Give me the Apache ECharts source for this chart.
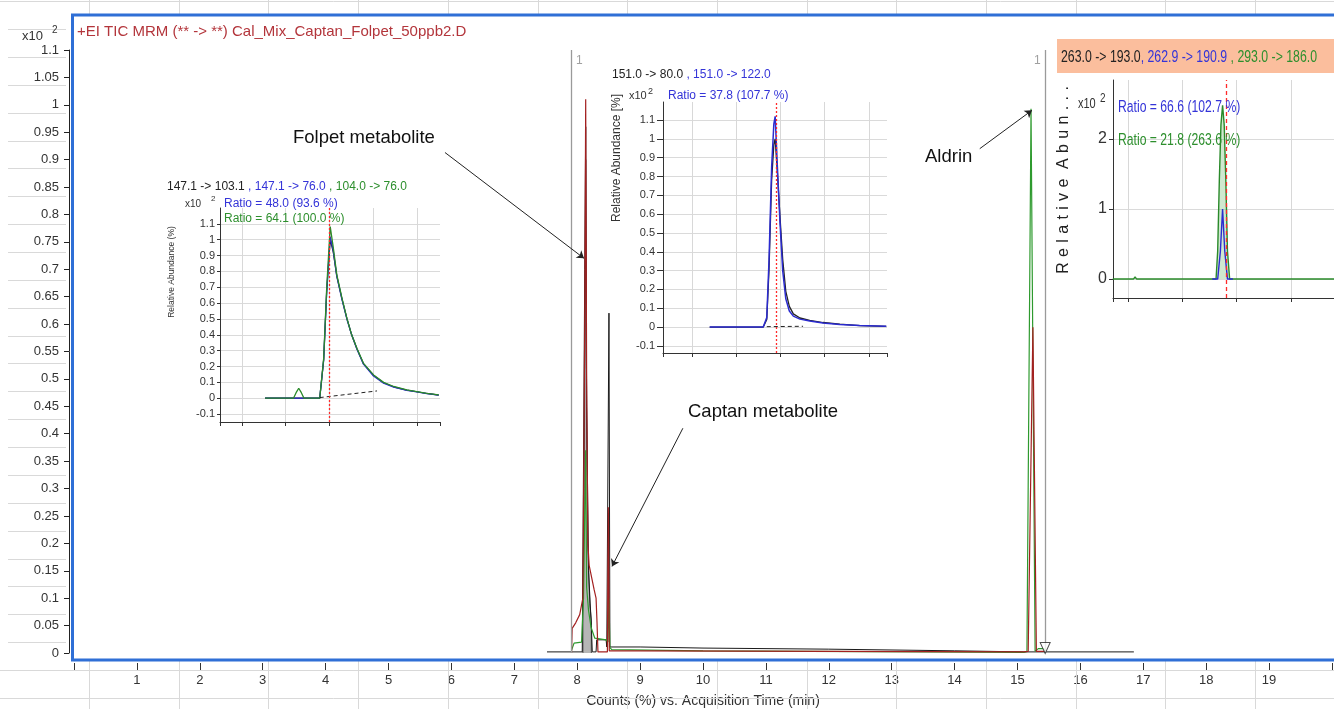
<!DOCTYPE html>
<html>
<head>
<meta charset="utf-8">
<title>TIC MRM Cal_Mix_Captan_Folpet_50ppb2</title>
<script src="https://cdn.jsdelivr.net/npm/echarts@6/dist/echarts.min.js"></script>
<style>
  html, body { margin: 0; padding: 0; background: #fff; }
  #chart { width: 1334px; height: 709px; }
</style>
</head>
<body>
<div id="chart"></div>
<script>
// ---- main TIC window: time (min) vs counts (x10^2) ----
var ticTime   = [7.52, 8.08, 8.095, 8.12, 8.135, 8.15, 8.18, 8.225, 8.24, 8.30, 8.31, 8.46, 8.47, 8.49, 8.505, 8.52, 9.0, 10.0, 12.0, 14.0, 15.1, 15.44, 16.85];
var ticCounts = [0.002, 0.002, 0.25, 0.7, 0.96, 0.45, 0.15, 0.05, 0.002, 0.002, 0.024, 0.024, 0.011, 0.011, 0.62, 0.011, 0.011, 0.009, 0.007, 0.004, 0.002, 0.002, 0.002];

var redTime   = [7.91, 7.92, 7.976, 8.04, 8.09, 8.12, 8.135, 8.15, 8.17, 8.19, 8.27, 8.30, 8.31, 8.315, 8.33, 8.48, 8.495, 8.51, 9.0, 12.0, 15.1, 15.17, 15.245, 15.30, 15.45];
var redCounts = [0.0, 0.045, 0.055, 0.07, 0.1, 0.6, 1.01, 0.5, 0.2, 0.16, 0.115, 0.1, 0.1, 0.056, 0.002, 0.002, 0.266, 0.004, 0.004, 0.003, 0.002, 0.003, 0.594, 0.003, 0.003];

var greenTime   = [7.91, 7.95, 8.07, 8.10, 8.125, 8.135, 8.15, 8.18, 8.22, 8.28, 8.46, 8.49, 8.505, 8.52, 8.55, 10.0, 15.1, 15.15, 15.215, 15.28, 15.33, 15.42, 15.44];
var greenCounts = [0.005, 0.018, 0.02, 0.1, 0.3, 0.37, 0.12, 0.078, 0.047, 0.027, 0.024, 0.02, 0.10, 0.01, 0.006, 0.004, 0.001, 0.003, 0.993, 0.003, 0.008, 0.008, 0.001];

var integTime   = [8.09, 8.09, 8.11, 8.125, 8.135, 8.15, 8.17, 8.2, 8.225, 8.225];
var integCounts = [0, 0.09, 0.3, 0.6, 0.9, 0.45, 0.2, 0.09, 0.06, 0];

var refTimes = [7.91, 15.44];
var markerTime = 15.44, markerCount = 0.009;

// ---- inset: Folpet metabolite (147.1 -> 103.1, 147.1 -> 76.0, 104.0 -> 76.0) ----
var folTime = [7.953, 8.018, 8.024, 8.030, 8.036, 8.042, 8.078, 8.087, 8.094, 8.102, 8.109, 8.117, 8.129, 8.140, 8.151, 8.163, 8.178, 8.201, 8.224, 8.247, 8.277, 8.300, 8.323, 8.350];
var fol104  = [0, 0, 0.035, 0.063, 0.035, 0, 0, 0.25, 0.7, 1.083, 0.95, 0.78, 0.63, 0.505, 0.40, 0.315, 0.22, 0.147, 0.10, 0.074, 0.052, 0.042, 0.030, 0.021];
var fol76   = [0, 0, 0, 0, 0, 0, 0, 0.24, 0.68, 1.02, 0.93, 0.77, 0.62, 0.50, 0.40, 0.31, 0.215, 0.14, 0.095, 0.07, 0.05, 0.04, 0.029, 0.02];
var fol103  = [0, 0, 0, 0, 0, 0, 0, 0.24, 0.67, 1.0, 0.92, 0.77, 0.625, 0.505, 0.40, 0.312, 0.218, 0.145, 0.098, 0.072, 0.051, 0.041, 0.03, 0.02];
var folBaseTime = [8.078, 8.209], folBase = [0.004, 0.046];
var folRT = 8.102;

// ---- inset: Captan metabolite (151.0 -> 80.0, 151.0 -> 122.0) ----
var capTime = [8.340, 8.461, 8.469, 8.474, 8.480, 8.485, 8.488, 8.493, 8.499, 8.505, 8.512, 8.520, 8.529, 8.544, 8.566, 8.596, 8.634, 8.679, 8.739];
var cap122  = [0, 0, 0.05, 0.35, 0.85, 1.08, 1.12, 0.85, 0.55, 0.30, 0.15, 0.085, 0.058, 0.042, 0.032, 0.022, 0.014, 0.008, 0.004];
var cap80   = [0, 0, 0.04, 0.30, 0.78, 0.97, 1.0, 0.82, 0.58, 0.36, 0.19, 0.11, 0.07, 0.048, 0.035, 0.024, 0.015, 0.008, 0.004];
var capBaseTime = [8.469, 8.551], capBase = [0.002, 0.004];
var capRT = 8.490;

// ---- inset: Aldrin (263.0 -> 193.0, 262.9 -> 190.9, 293.0 -> 186.0) ----
var ald186Time = [15.072, 15.110, 15.113, 15.116, 15.160, 15.163, 15.166, 15.262, 15.265, 15.268, 15.271, 15.274, 15.277, 15.280, 15.283, 15.287, 15.380, 15.383, 15.386, 15.479];
var ald186     = [0, 0, 0.03, 0, 0, 0.02, 0, 0, 0.4, 1.4, 2.2, 2.48, 2.2, 1.4, 0.4, 0, 0, 0.02, 0, 0];
var ald191Time = [15.255, 15.265, 15.270, 15.274, 15.278, 15.283, 15.293];
var ald191     = [0, 0, 0.4, 1.0, 0.4, 0, 0];
var aldRT = 15.277;

function pairs(xs, ys) {
  return xs.map(function (x, i) { return [x, ys[i]]; });
}

var FONT = 'Liberation Sans, Arial, sans-serif';
var BLK = '#222', BLUE = '#3434d8', GRN = '#2d8f2d', TRACE_RED = '#a32020', TRACE_GRN = '#2e9a2e';

function rich(size) {
  return {
    k: { fill: BLK, fontSize: size, fontFamily: FONT },
    b: { fill: BLUE, fontSize: size, fontFamily: FONT },
    g: { fill: GRN, fontSize: size, fontFamily: FONT }
  };
}
function txt(x, y, s, size, color, extra) {
  var el = { type: 'text', x: x, y: y, z: 100, silent: true,
    style: { text: s, fill: color, fontSize: size, fontFamily: FONT, verticalAlign: 'middle', align: 'left' } };
  for (var k in extra) el[k] = extra[k];
  return el;
}

// page grid behind the screenshot (decoration only)
var graphics = [];
for (var r = 0; r < 26; r++) {
  var gy = Math.round(1.3 + 27.86 * r) + 0.5;
  if (gy < 14 || gy > 661) {
    graphics.push({ type: 'line', silent: true, z: 1, shape: { x1: 0, y1: gy, x2: 1334, y2: gy }, style: { stroke: '#d9d9d9', lineWidth: 1 } });
  } else {
    graphics.push({ type: 'line', silent: true, z: 1, shape: { x1: 8, y1: gy, x2: 66, y2: gy }, style: { stroke: '#d9d9d9', lineWidth: 1 } });
  }
}
for (var c = 0; c < 14; c++) {
  var gx = Math.round(89 + 89.7 * c) + 0.5;
  graphics.push({ type: 'line', silent: true, z: 1, shape: { x1: gx, y1: 0, x2: gx, y2: 14 }, style: { stroke: '#d9d9d9', lineWidth: 1 } });
  graphics.push({ type: 'line', silent: true, z: 1, shape: { x1: gx, y1: 661, x2: gx, y2: 709 }, style: { stroke: '#d9d9d9', lineWidth: 1 } });
}
// plot frame
graphics.push({ type: 'rect', silent: true, z: 90, shape: { x: 72.5, y: 15, width: 1270, height: 645 }, style: { fill: 'none', stroke: '#2f6fd6', lineWidth: 3 } });
// main texts
graphics.push(txt(77, 32, '+EI TIC MRM (** -> **) Cal_Mix_Captan_Folpet_50ppb2.D', 15, '#b3353b'));
graphics.push(txt(22, 36, 'x10', 13, '#333'));
graphics.push(txt(52, 30, '2', 10, '#333'));
graphics.push(txt(293, 138, 'Folpet metabolite', 18.5, '#111'));
graphics.push(txt(688, 412, 'Captan metabolite', 18.5, '#111'));
graphics.push(txt(925, 157, 'Aldrin', 18.5, '#111'));
// inset 1 texts
graphics.push({ type: 'text', x: 167, y: 187, z: 100, silent: true, style: { text: '{k|147.1 -> 103.1} {b|, 147.1 -> 76.0} {g|, 104.0 -> 76.0}', rich: rich(12), fontSize: 12, fontFamily: FONT, verticalAlign: 'middle' } });
graphics.push(txt(185, 204, 'x10', 10, '#333'));
graphics.push(txt(211, 199, '2', 8, '#333'));
graphics.push(txt(224, 204, 'Ratio = 48.0 (93.6 %)', 12, BLUE));
graphics.push(txt(224, 219, 'Ratio = 64.1 (100.0 %)', 12, GRN));
graphics.push(txt(172, 272, '', 8.5, '#333', { rotation: Math.PI / 2, style: { text: 'Relative Abundance (%)', fill: '#333', fontSize: 8.5, fontFamily: FONT, align: 'center', verticalAlign: 'middle' } }));
// inset 2 texts
graphics.push({ type: 'text', x: 612, y: 75, z: 100, silent: true, style: { text: '{k|151.0 -> 80.0} {b|, 151.0 -> 122.0}', rich: rich(12), fontSize: 12, fontFamily: FONT, verticalAlign: 'middle' } });
graphics.push(txt(629, 96, 'x10', 11, '#333'));
graphics.push(txt(648, 92, '2', 9, '#333'));
graphics.push(txt(668, 96, 'Ratio = 37.8 (107.7 %)', 12, BLUE));
graphics.push(txt(617, 158, '', 12, '#333', { rotation: Math.PI / 2, style: { text: 'Relative Abundance [%]', fill: '#333', fontSize: 12, fontFamily: FONT, align: 'center', verticalAlign: 'middle' } }));
// inset 3 header and texts (narrow, stretched look)
graphics.push({ type: 'rect', silent: true, z: 95, shape: { x: 1057, y: 39, width: 277, height: 34 }, style: { fill: '#fbbe9d' } });
graphics.push({ type: 'text', x: 1061, y: 57, z: 100, silent: true, scaleY: 1.35, style: { text: '{k|263.0 -> 193.0}{b|, 262.9 -> 190.9} {g|, 293.0 -> 186.0}', rich: rich(12.3), fontSize: 12.3, fontFamily: FONT, verticalAlign: 'middle' } });
graphics.push(txt(1078, 104, 'x10', 11, '#333', { scaleY: 1.35 }));
graphics.push(txt(1100, 98, '2', 10, '#333', { scaleY: 1.35 }));
graphics.push(txt(1118, 107, 'Ratio = 66.6 (102.7 %)', 12.2, BLUE, { scaleY: 1.35 }));
graphics.push(txt(1118, 140, 'Ratio = 21.8 (263.6 %)', 12.2, GRN, { scaleY: 1.35 }));
graphics.push(txt(1064, 180, '', 16, '#222', { rotation: Math.PI / 2, style: { text: 'R\u2004e\u2004l\u2004a\u2004t\u2004i\u2004v\u2004e\u2004 A\u2004b\u2004u\u2004n\u2004.\u2004.\u2004.', fill: '#222', fontSize: 16, fontFamily: FONT, align: 'center', verticalAlign: 'middle' } }));

function insetX(idx, min, max) {
  return {
    gridIndex: idx, type: 'value', min: min, max: max, minInterval: 0.1, maxInterval: 0.1,
    axisLine: { show: true, onZero: false, lineStyle: { color: '#333', width: 1 } },
    axisTick: { show: true, length: 4, lineStyle: { color: '#333' } },
    axisLabel: { show: false },
    splitLine: { show: true, showMinLine: false, showMaxLine: false, lineStyle: { color: '#d8d8d8', width: 1 } }
  };
}
function insetY(idx, min, max, step, size, margin, tick) {
  return {
    gridIndex: idx, type: 'value', min: min, max: max, minInterval: step, maxInterval: step,
    axisLine: { show: true, onZero: false, lineStyle: { color: '#333', width: 1 } },
    axisTick: { show: true, length: tick, lineStyle: { color: '#333' } },
    axisLabel: { show: true, color: '#333', fontSize: size, fontFamily: FONT, margin: margin, showMinLabel: false, showMaxLabel: false },
    splitLine: { show: true, showMinLine: false, showMaxLine: false, lineStyle: { color: '#dadada', width: 1 } }
  };
}
function trace(xi, data, color, width, extra) {
  var s = { type: 'line', xAxisIndex: xi, yAxisIndex: xi, data: data, showSymbol: false, symbol: 'none',
    lineStyle: { color: color, width: width }, itemStyle: { color: color }, silent: true, z: 3 };
  for (var k in extra) s[k] = extra[k];
  return s;
}
function rtLine(value, type) {
  return { symbol: ['none', 'none'], silent: true, animation: false, label: { show: false },
    lineStyle: { color: '#ff2a2a', width: 1.3, type: type }, data: [{ xAxis: value }] };
}

var myChart = echarts.init(document.getElementById('chart'));
var option = {
  animation: false,
  backgroundColor: '#fff',
  textStyle: { fontFamily: FONT },
  graphic: graphics,
  grid: [
    { left: 74, top: 50, width: 1258, height: 603, outerBoundsMode: 'none', containLabel: false },
    { left: 220, top: 208, width: 220, height: 214, outerBoundsMode: 'none', containLabel: false },
    { left: 663, top: 102, width: 224, height: 251, outerBoundsMode: 'none', containLabel: false },
    { left: 1113, top: 80, width: 221, height: 218, outerBoundsMode: 'none', containLabel: false }
  ],
  xAxis: [
    {
      gridIndex: 0, type: 'value', min: 0, max: 20, interval: 1, offset: 10,
      axisLine: { show: false, onZero: false },
      axisTick: { show: true, length: 8, lineStyle: { color: '#333' } },
      axisLabel: { color: '#333', fontSize: 13, fontFamily: FONT, margin: 11,
        formatter: function (v) { return (v === 0 || v === 20) ? '' : String(v); } },
      splitLine: { show: false },
      name: 'Counts (%) vs. Acquisition Time (min)', nameLocation: 'middle', nameGap: 31, nameMoveOverlap: false,
      nameTextStyle: { color: '#333', fontSize: 14, fontFamily: FONT }
    },
    insetX(1, 7.85, 8.353),
    insetX(2, 8.2345, 8.7407),
    insetX(3, 15.0724, 15.479)
  ],
  yAxis: [
    {
      gridIndex: 0, type: 'value', min: 0, max: 1.1, interval: 0.05, offset: 5,
      axisLine: { show: true, onZero: false, lineStyle: { color: '#222', width: 1 } },
      axisTick: { show: true, length: 5, lineStyle: { color: '#222' } },
      axisLabel: { color: '#333', fontSize: 13, fontFamily: FONT, margin: 10 },
      splitLine: { show: false }
    },
    insetY(1, -0.15, 1.2, 0.1, 11, 5, 3),
    insetY(2, -0.138, 1.196, 0.1, 11, 8, 6),
    insetY(3, -0.27, 2.84, 1, 16, 6, 4)
  ],
  series: [
    // main window
    trace(0, pairs(integTime, integCounts), '#222', 0.8, { areaStyle: { color: '#b6b6b6', opacity: 1 }, z: 2 }),
    trace(0, pairs(ticTime, ticCounts), '#1a1a1a', 1, {
      markLine: { symbol: ['none', 'none'], silent: true, animation: false, label: { show: false },
        lineStyle: { color: '#9a9a9a', width: 1.3, type: 'solid' },
        data: refTimes.map(function (t) { return { xAxis: t }; }) }
    }),
    trace(0, pairs(greenTime, greenCounts), TRACE_GRN, 1.2),
    trace(0, pairs(redTime, redCounts), TRACE_RED, 1.2),
    {
      type: 'scatter', xAxisIndex: 0, yAxisIndex: 0, silent: true, z: 4, symbolSize: 1,
      itemStyle: { color: 'rgba(0,0,0,0)' },
      label: { show: true, formatter: '1', color: '#888', fontSize: 12, distance: 4 },
      data: [
        { value: [refTimes[0], 1.08], label: { position: 'right' } },
        { value: [refTimes[1], 1.08], label: { position: 'left' } }
      ]
    },
    {
      type: 'scatter', xAxisIndex: 0, yAxisIndex: 0, silent: true, z: 5,
      symbol: 'triangle', symbolRotate: 180, symbolSize: [10, 11],
      itemStyle: { color: '#fff', borderColor: '#222', borderWidth: 1 },
      data: [[markerTime, markerCount]]
    },
    {
      type: 'lines', coordinateSystem: 'cartesian2d', xAxisIndex: 0, yAxisIndex: 0, silent: true, z: 6,
      symbol: ['none', 'arrow'], symbolSize: 7,
      lineStyle: { color: '#222', width: 1, opacity: 1, curveness: 0 },
      data: [
        { coords: [[5.898, 0.913], [8.108, 0.72]] },
        { coords: [[9.68, 0.41], [8.553, 0.158]] },
        { coords: [[14.40, 0.92], [15.23, 0.99]] }
      ]
    },
    // Folpet inset
    trace(1, pairs(folTime, fol103), '#222', 1.2),
    trace(1, pairs(folTime, fol76), '#2b2bd0', 1.3),
    trace(1, pairs(folTime, fol104), '#2a8a2a', 1.3),
    trace(1, pairs(folBaseTime, folBase), '#222', 1, { lineStyle: { color: '#222', width: 1, type: [4, 3] }, markLine: rtLine(folRT, [2, 2]) }),
    // Captan inset
    trace(2, pairs(capTime, cap80), '#222', 1.3),
    trace(2, pairs(capTime, cap122), '#2b2bd0', 1.5),
    trace(2, pairs(capBaseTime, capBase), '#222', 1, { lineStyle: { color: '#222', width: 1, type: [4, 3] }, markLine: rtLine(capRT, [2, 2]) }),
    // Aldrin inset
    trace(3, pairs(ald186Time, ald186), '#2a8a2a', 1.4, { areaStyle: { color: 'rgba(120,190,120,0.5)' } }),
    trace(3, pairs(ald191Time, ald191), '#2b2bd0', 1.4, { markLine: rtLine(aldRT, [4, 3]) })
  ]
};
myChart.setOption(option);
</script>
</body>
</html>
